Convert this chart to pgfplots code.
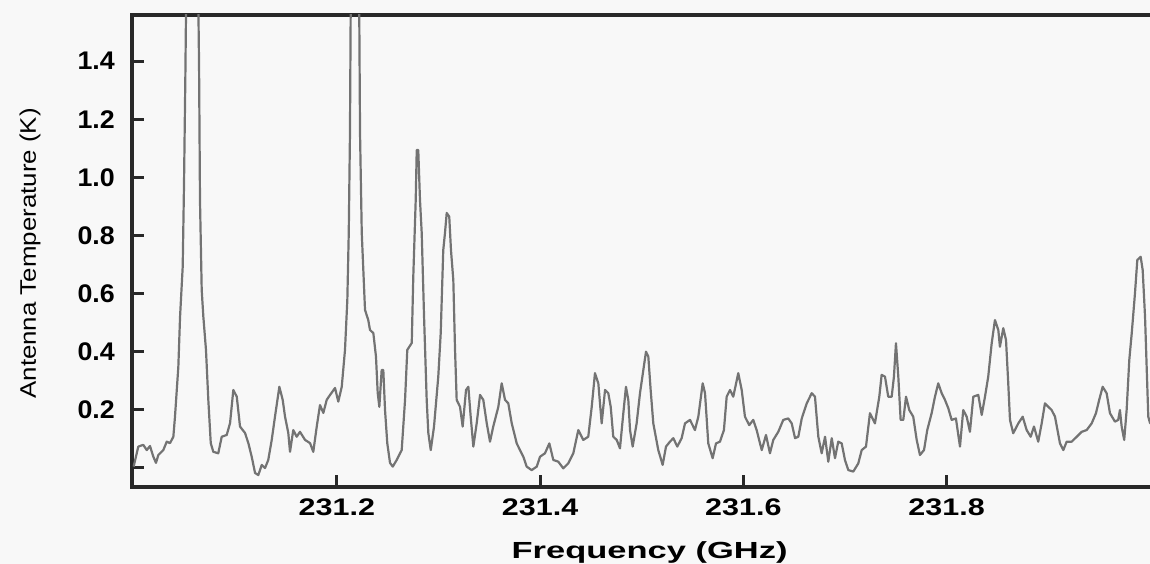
\documentclass[border=0pt]{standalone}
\usepackage{pgfplots}
\pgfplotsset{compat=1.18}
\usepackage{fontspec}
\setmainfont{Liberation Sans}
\newfontfamily\xtf[FakeStretch=1.27]{Liberation Sans}
\newfontfamily\xlf[FakeStretch=1.48]{Liberation Sans}
\newfontfamily\ytf[FakeStretch=1.05]{Liberation Sans}
\newfontfamily\ylf[FakeStretch=1.15]{Liberation Sans}
\definecolor{bg}{RGB}{248,248,248}
\definecolor{trace}{RGB}{115,115,115}
\definecolor{axc}{RGB}{40,40,40}
\begin{document}
\begin{tikzpicture}[x=1pt,y=1pt]
\useasboundingbox (0,0) rectangle (1150,564);
\fill[bg] (0,0) rectangle (1150,564);
\begin{axis}[
  at={(132pt,77pt)}, anchor=south west,
  width=1024pt, height=472pt, scale only axis,
  xmin=230.9984, xmax=232.0061,
  ymin=-0.0672, ymax=1.559,
  axis line style={line width=3.5pt, axc},
  tick align=inside,
  xtick pos=bottom, ytick pos=left,
  major tick length=12pt,
  every tick/.style={line width=2.8pt, axc},
  xtick={231.2,231.4,231.6,231.8},
  xticklabels={231.2,231.4,231.6,231.8},
  ytick={0,0.2,0.4,0.6,0.8,1.0,1.2,1.4},
  yticklabels={{},0.2,0.4,0.6,0.8,1.0,1.2,1.4},
  xticklabel style={inner sep=0pt, anchor=north, yshift=-12pt, font=\xtf\bfseries\fontsize{24}{28}\selectfont},
  yticklabel style={inner sep=0pt, anchor=east, xshift=-17pt, font=\ytf\bfseries\fontsize{25.5}{30}\selectfont},
  xlabel={Frequency (GHz)},
  xlabel style={at={(axis description cs:0.5055,0)}, anchor=base, yshift=-71pt, inner sep=0pt, font=\xlf\bfseries\fontsize{23.3}{28}\selectfont},
  ylabel={Antenna Temperature (K)},
  ylabel style={at={(axis description cs:0,0.495)}, anchor=base, yshift=96pt, inner sep=0pt, font=\ylf\fontsize{22.5}{27}\selectfont},
  clip=true,
]
\addplot[trace, line width=2.2pt, line join=round] coordinates {
(231.0000,0.003) (231.0046,0.072) (231.0095,0.078) (231.0129,0.060) (231.0161,0.074)
(231.0194,0.037) (231.0220,0.016) (231.0243,0.043) (231.0292,0.060) (231.0326,0.089)
(231.0358,0.084) (231.0391,0.106) (231.0407,0.175) (231.0440,0.347) (231.0457,0.520)
(231.0483,0.692) (231.0496,0.980) (231.0509,1.346) (231.0540,2.4) (231.0610,2.4)
(231.0644,1.381) (231.0653,0.922) (231.0670,0.611) (231.0686,0.520) (231.0712,0.405)
(231.0735,0.233) (231.0759,0.084) (231.0784,0.054) (231.0833,0.049) (231.0867,0.106)
(231.0916,0.112) (231.0949,0.153) (231.0981,0.267) (231.1015,0.244) (231.1047,0.141)
(231.1096,0.119) (231.1129,0.084) (231.1162,0.037) (231.1195,-0.019) (231.1227,-0.026)
(231.1261,0.009) (231.1293,-0.002) (231.1325,0.026) (231.1359,0.095) (231.1391,0.175)
(231.1434,0.278) (231.1467,0.233) (231.1490,0.175) (231.1522,0.119) (231.1539,0.054)
(231.1571,0.129) (231.1605,0.106) (231.1637,0.123) (231.1687,0.095) (231.1736,0.084)
(231.1768,0.054) (231.1802,0.141) (231.1834,0.215) (231.1867,0.188) (231.1900,0.233)
(231.1933,0.250) (231.1982,0.274) (231.2014,0.227) (231.2048,0.278) (231.2080,0.405)
(231.2103,0.577) (231.2117,0.808) (231.2129,1.152) (231.2150,2.4) (231.2205,2.4)
(231.2228,1.152) (231.2245,0.808) (231.2277,0.543) (231.2309,0.508) (231.2326,0.474)
(231.2359,0.463) (231.2385,0.382) (231.2402,0.257) (231.2418,0.209) (231.2441,0.336)
(231.2457,0.336) (231.2474,0.198) (231.2496,0.084) (231.2523,0.016) (231.2550,0.003)
(231.2589,0.026) (231.2638,0.060) (231.2671,0.233) (231.2693,0.405) (231.2737,0.429)
(231.2752,0.657) (231.2776,0.922) (231.2786,1.094) (231.2801,1.094) (231.2818,0.922)
(231.2835,0.808) (231.2858,0.520) (231.2884,0.233) (231.2900,0.119) (231.2924,0.060)
(231.2956,0.141) (231.2998,0.313) (231.3022,0.463) (231.3047,0.749) (231.3064,0.808)
(231.3081,0.877) (231.3106,0.864) (231.3123,0.749) (231.3146,0.646) (231.3163,0.405)
(231.3179,0.233) (231.3212,0.209) (231.3238,0.141) (231.3271,0.267) (231.3294,0.278)
(231.3317,0.175) (231.3343,0.072) (231.3376,0.152) (231.3409,0.250) (231.3441,0.233)
(231.3475,0.152) (231.3507,0.089) (231.3539,0.141) (231.3589,0.209) (231.3622,0.290)
(231.3655,0.233) (231.3687,0.221) (231.3721,0.152) (231.3770,0.083) (231.3802,0.060)
(231.3835,0.037) (231.3868,0.003) (231.3917,-0.009) (231.3967,0.003) (231.3999,0.037)
(231.4048,0.049) (231.4091,0.083) (231.4130,0.026) (231.4179,0.020) (231.4228,-0.003)
(231.4277,0.014) (231.4327,0.049) (231.4376,0.129) (231.4425,0.095) (231.4474,0.106)
(231.4508,0.209) (231.4540,0.325) (231.4573,0.290) (231.4606,0.152) (231.4639,0.267)
(231.4671,0.256) (231.4695,0.209) (231.4720,0.106) (231.4754,0.095) (231.4786,0.066)
(231.4819,0.187) (231.4845,0.278) (231.4868,0.233) (231.4885,0.129) (231.4911,0.072)
(231.4950,0.152) (231.4983,0.256) (231.5016,0.336) (231.5042,0.399) (231.5065,0.382)
(231.5088,0.267) (231.5114,0.152) (231.5163,0.060) (231.5206,0.009) (231.5239,0.072)
(231.5278,0.089) (231.5311,0.101) (231.5350,0.072) (231.5393,0.101) (231.5426,0.152)
(231.5475,0.164) (231.5524,0.129) (231.5557,0.175) (231.5600,0.290) (231.5623,0.256)
(231.5655,0.083) (231.5698,0.032) (231.5731,0.083) (231.5770,0.089) (231.5809,0.129)
(231.5836,0.244) (231.5869,0.267) (231.5901,0.244) (231.5950,0.325) (231.5984,0.267)
(231.6016,0.175) (231.6058,0.146) (231.6098,0.164) (231.6131,0.129) (231.6181,0.060)
(231.6223,0.112) (231.6262,0.049) (231.6295,0.095) (231.6344,0.123) (231.6393,0.164)
(231.6442,0.169) (231.6476,0.152) (231.6509,0.101) (231.6541,0.106) (231.6575,0.169)
(231.6624,0.221) (231.6673,0.256) (231.6705,0.244) (231.6738,0.106) (231.6771,0.049)
(231.6804,0.106) (231.6836,0.020) (231.6870,0.101) (231.6902,0.032) (231.6934,0.089)
(231.6968,0.083) (231.7000,0.026) (231.7033,-0.009) (231.7082,-0.014) (231.7131,0.014)
(231.7165,0.060) (231.7207,0.072) (231.7246,0.187) (231.7295,0.152) (231.7338,0.244)
(231.7361,0.319) (231.7394,0.313) (231.7426,0.244) (231.7460,0.244) (231.7482,0.313)
(231.7502,0.428) (231.7525,0.313) (231.7548,0.164) (231.7574,0.164) (231.7601,0.244)
(231.7633,0.198) (231.7672,0.175) (231.7706,0.095) (231.7738,0.043) (231.7778,0.060)
(231.7810,0.129) (231.7853,0.187) (231.7886,0.244) (231.7918,0.290) (231.7952,0.256)
(231.7984,0.233) (231.8017,0.204) (231.8050,0.164) (231.8092,0.169) (231.8132,0.072)
(231.8164,0.198) (231.8198,0.175) (231.8230,0.123) (231.8263,0.244) (231.8312,0.250)
(231.8346,0.181) (231.8378,0.244) (231.8410,0.313) (231.8444,0.428) (231.8476,0.508)
(231.8509,0.474) (231.8525,0.416) (231.8558,0.480) (231.8585,0.439) (231.8607,0.290)
(231.8624,0.164) (231.8656,0.118) (231.8706,0.152) (231.8749,0.175) (231.8788,0.129)
(231.8828,0.106) (231.8860,0.141) (231.8902,0.089) (231.8936,0.152) (231.8968,0.221)
(231.9001,0.209) (231.9034,0.198) (231.9067,0.175) (231.9116,0.083) (231.9149,0.060)
(231.9182,0.089) (231.9231,0.089) (231.9281,0.106) (231.9330,0.123) (231.9379,0.129)
(231.9428,0.152) (231.9470,0.187) (231.9502,0.233) (231.9536,0.278) (231.9575,0.256)
(231.9608,0.187) (231.9657,0.158) (231.9689,0.164) (231.9706,0.198) (231.9723,0.141)
(231.9748,0.095) (231.9772,0.198) (231.9798,0.370) (231.9822,0.462) (231.9854,0.600)
(231.9877,0.715) (231.9910,0.726) (231.9930,0.680) (231.9953,0.520) (231.9969,0.347)
(231.9985,0.175) (232.0002,0.153) (232.0040,0.160)
};
\end{axis}
\end{tikzpicture}
\end{document}
